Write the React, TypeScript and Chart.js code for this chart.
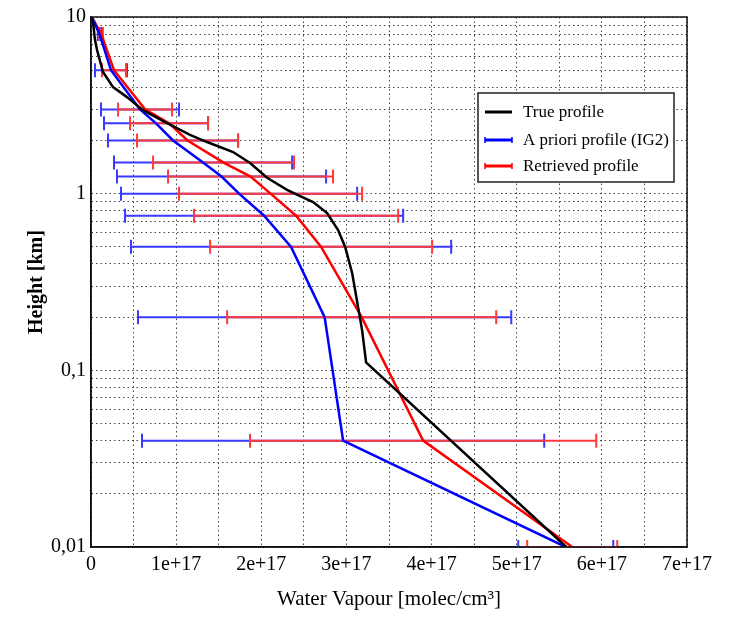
import React, { useEffect, useRef } from 'react';
import { Chart, registerables } from 'chart.js';

Chart.register(...registerables);

// ---- data (water vapour in units of 1e17 molec/cm3, height in km) ----
const E17 = 1e17;

const trueHeights = [10, 9.36, 7.4, 6.5, 4.88, 4.01, 3.52, 2.97, 2.51, 2.15, 1.96, 1.72, 1.49, 1.23, 1.05, 0.969, 0.896, 0.777, 0.622, 0.499, 0.356, 0.228, 0.169, 0.111, 0.01];
const trueValues = [0, 0.024, 0.047, 0.071, 0.141, 0.259, 0.423, 0.611, 0.893, 1.163, 1.363, 1.669, 1.868, 2.068, 2.303, 2.456, 2.609, 2.773, 2.902, 2.985, 3.067, 3.137, 3.184, 3.231, 5.582];

const levels = [10, 8, 5, 3, 2.5, 2, 1.5, 1.25, 1, 0.75, 0.5, 0.2, 0.04, 0.01];
const aprioriValues = [0.01, 0.1, 0.235, 0.576, 0.764, 0.964, 1.316, 1.533, 1.739, 2.033, 2.35, 2.744, 2.961, 5.576];
const aprioriErrors = [0.005, 0.02, 0.188, 0.458, 0.611, 0.764, 1.046, 1.228, 1.387, 1.633, 1.88, 2.192, 2.362, 0.558];
const retrievedValues = [0.01, 0.12, 0.27, 0.635, 0.917, 1.134, 1.557, 1.874, 2.109, 2.409, 2.703, 3.179, 3.901, 5.652];
const retrievedErrors = [0.005, 0.02, 0.141, 0.317, 0.458, 0.593, 0.828, 0.969, 1.075, 1.199, 1.304, 1.58, 2.033, 0.529];

const xTickValues = [0, 0.5, 1, 1.5, 2, 2.5, 3, 3.5, 4, 4.5, 5, 5.5, 6, 6.5, 7];
const yDecades = [0.01, 0.1, 1];
const yMultipliers = [1, 2, 3, 4, 5, 6, 7, 8, 9];
const yLabels: Record<string, string> = { '0.01': '0,01', '0.1': '0,1', '1': '1', '10': '10' };

const seriesLabels = ['True profile', 'A priori profile (IG2)', 'Retrieved profile'];
const seriesColors = ['#000000', '#0000ff', '#ff0000'];
const barColors = ['#3a3aff', '#ff3a3a'];

const FONT = '"Liberation Serif", "Times New Roman", serif';

export default function App() {
  const ref = useRef<HTMLCanvasElement>(null);

  useEffect(() => {
    const canvas = ref.current;
    if (!canvas) return;

    const errorBars = {
      id: 'errorBars',
      beforeDatasetsDraw(chart: any) {
        const { ctx, chartArea, scales } = chart;
        const xs = scales.x;
        const ys = scales.y;
        ctx.save();
        ctx.beginPath();
        ctx.rect(chartArea.left, chartArea.top, chartArea.right - chartArea.left, chartArea.bottom - chartArea.top);
        ctx.clip();
        const draw = (vals: number[], errs: number[], color: string) => {
          ctx.strokeStyle = color;
          ctx.lineWidth = 2;
          levels.forEach((h, i) => {
            const py = ys.getPixelForValue(h);
            const x1 = xs.getPixelForValue((vals[i] - errs[i]) * E17);
            const x2 = xs.getPixelForValue((vals[i] + errs[i]) * E17);
            ctx.beginPath();
            ctx.moveTo(x1, py);
            ctx.lineTo(x2, py);
            ctx.moveTo(x1, py - 7);
            ctx.lineTo(x1, py + 7);
            ctx.moveTo(x2, py - 7);
            ctx.lineTo(x2, py + 7);
            ctx.stroke();
          });
        };
        draw(aprioriValues, aprioriErrors, barColors[0]);
        draw(retrievedValues, retrievedErrors, barColors[1]);
        ctx.restore();
      },
    };

    const frameAndLegend = {
      id: 'frameAndLegend',
      afterDraw(chart: any) {
        const { ctx, chartArea } = chart;
        ctx.save();
        ctx.strokeStyle = '#111';
        ctx.lineWidth = 1.5;
        ctx.strokeRect(chartArea.left, chartArea.top, chartArea.right - chartArea.left, chartArea.bottom - chartArea.top);

        // legend box
        const bx = chartArea.left + 387;
        const by = chartArea.top + 76;
        const bw = 196;
        const bh = 89;
        ctx.fillStyle = '#fff';
        ctx.fillRect(bx, by, bw, bh);
        ctx.strokeStyle = '#222';
        ctx.lineWidth = 1.5;
        ctx.strokeRect(bx, by, bw, bh);
        const rows = [19, 47, 73];
        ctx.font = `17px ${FONT}`;
        ctx.textBaseline = 'middle';
        chart.data.datasets.forEach((ds: any, i: number) => {
          const y = by + rows[i];
          ctx.strokeStyle = ds.borderColor;
          ctx.lineWidth = 3;
          ctx.beginPath();
          ctx.moveTo(bx + 7, y);
          ctx.lineTo(bx + 34, y);
          ctx.stroke();
          if (i > 0) {
            ctx.lineWidth = 1.5;
            ctx.beginPath();
            ctx.moveTo(bx + 7, y - 3);
            ctx.lineTo(bx + 7, y + 3);
            ctx.moveTo(bx + 34, y - 3);
            ctx.lineTo(bx + 34, y + 3);
            ctx.stroke();
          }
          ctx.fillStyle = '#000';
          ctx.fillText(ds.label, bx + 45, y + 1);
        });
        ctx.restore();
      },
    };

    const makePoints = (hs: number[], vs: number[]) => hs.map((h, i) => ({ x: vs[i] * E17, y: h }));

    const chart = new Chart(canvas, {
      type: 'line',
      data: {
        datasets: [
          { label: seriesLabels[0], data: makePoints(trueHeights, trueValues), borderColor: seriesColors[0], backgroundColor: seriesColors[0], borderWidth: 2.5, pointRadius: 0, tension: 0 },
          { label: seriesLabels[1], data: makePoints(levels, aprioriValues), borderColor: seriesColors[1], backgroundColor: seriesColors[1], borderWidth: 2.5, pointRadius: 0, tension: 0 },
          { label: seriesLabels[2], data: makePoints(levels, retrievedValues), borderColor: seriesColors[2], backgroundColor: seriesColors[2], borderWidth: 2.5, pointRadius: 0, tension: 0 },
        ],
      },
      options: {
        responsive: false,
        animation: false,
        devicePixelRatio: 1,
        layout: { padding: { top: 17, right: 46, left: 0, bottom: 0 } },
        plugins: { legend: { display: false }, tooltip: { enabled: false } },
        scales: {
          x: {
            type: 'linear',
            min: 0,
            max: 7 * E17,
            afterFit: (s: any) => { s.height = 75; },
            afterBuildTicks: (s: any) => { s.ticks = xTickValues.map((v) => ({ value: v * E17 })); },
            ticks: {
              autoSkip: false,
              maxRotation: 0,
              padding: 6,
              color: '#000',
              font: { family: FONT, size: 20 },
              callback: (v: any) => {
                const n = Math.round(Number(v) / E17 * 2);
                if (n % 2 !== 0) return '';
                if (n === 0) return '0';
                return `${n / 2}e+17`;
              },
            },
            grid: { color: '#444', lineWidth: 1, drawTicks: false },
            border: { display: true, color: '#111', width: 1.5, dash: [1.5, 3] },
            title: { display: true, text: 'Water Vapour [molec/cm³]', color: '#000', font: { family: FONT, size: 21 }, padding: { top: 0, bottom: 10 } },
          },
          y: {
            type: 'logarithmic',
            min: 0.01,
            max: 10,
            afterFit: (s: any) => { s.width = 91; },
            afterBuildTicks: (s: any) => {
              const t: { value: number }[] = [];
              yDecades.forEach((d) => yMultipliers.forEach((m) => t.push({ value: Number((d * m).toPrecision(3)) })));
              t.push({ value: 10 });
              s.ticks = t;
            },
            ticks: {
              autoSkip: false,
              padding: 5,
              color: '#000',
              font: { family: FONT, size: 20 },
              callback: (v: any) => {
                const key = String(Number(Number(v).toPrecision(3)));
                return yLabels[key] !== undefined ? yLabels[key] : '';
              },
            },
            grid: { color: '#444', lineWidth: 1, drawTicks: false },
            border: { display: true, color: '#111', width: 1.5, dash: [1.5, 3] },
            title: { display: true, text: 'Height [km]', color: '#000', font: { family: FONT, size: 20, weight: 'bold' }, padding: { top: 25, bottom: 0 } },
          },
        },
      },
      plugins: [errorBars, frameAndLegend],
    } as any);

    return () => chart.destroy();
  }, []);

  return (
    <div style={{ position: 'absolute', left: 0, top: 0, width: 733, height: 622, background: '#fff' }}>
      <canvas ref={ref} width={733} height={622} style={{ display: 'block' }} />
    </div>
  );
}
